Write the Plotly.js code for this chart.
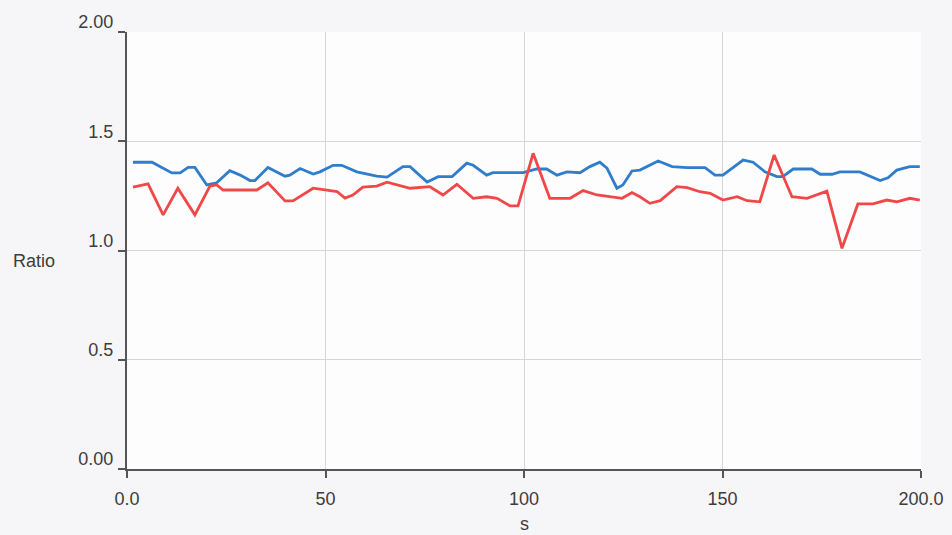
<!DOCTYPE html>
<html>
<head>
<meta charset="utf-8">
<script src="https://cdn.plot.ly/plotly-3.0.1.min.js"></script>
<style>html,body{margin:0;padding:0;background:#f6f5f7;}#chart{width:952px;height:535px;}</style>
</head>
<body>
<div id="chart"></div>
<script>
const blueX = [1.5, 6.3, 11.3, 13.4, 15.4, 17.1, 20.1, 22.6, 25.9, 28.5, 31, 32.2, 35.5, 37.7, 39.8, 41, 43.6, 46.9, 48.6, 51.9, 54.1, 57.9, 60.4, 62.9, 65.5, 69.5, 71.3, 75.6, 78.4, 81.9, 85.6, 87.2, 90.6, 92.2, 99.8, 103.2, 105.7, 108.3, 110.8, 114.1, 116.6, 119.1, 120.9, 123.4, 124.9, 127.2, 129.2, 133.8, 137.3, 141.1, 145.6, 148.1, 150.1, 155.2, 157.7, 160.7, 163.7, 165.2, 167.8, 172.5, 174.6, 177.6, 179.6, 184.6, 189.7, 191.7, 193.9, 197.2, 199.7];
const blueY = [1.404, 1.404, 1.355, 1.355, 1.38, 1.38, 1.30, 1.31, 1.365, 1.345, 1.32, 1.32, 1.38, 1.36, 1.34, 1.345, 1.375, 1.35, 1.36, 1.39, 1.39, 1.36, 1.35, 1.34, 1.336, 1.384, 1.384, 1.313, 1.338, 1.338, 1.40, 1.39, 1.345, 1.356, 1.356, 1.373, 1.373, 1.345, 1.36, 1.356, 1.384, 1.404, 1.377, 1.285, 1.30, 1.364, 1.368, 1.41, 1.384, 1.379, 1.379, 1.345, 1.345, 1.414, 1.404, 1.36, 1.338, 1.338, 1.373, 1.373, 1.349, 1.349, 1.36, 1.36, 1.32, 1.333, 1.368, 1.384, 1.384];
const redX = [1.5, 5.3, 9.1, 12.8, 17.1, 20.9, 22.6, 24.2, 32.7, 35.5, 39.8, 41.8, 46.9, 50.4, 52.9, 54.9, 56.9, 59.4, 62.9, 65.5, 68, 71.3, 76.3, 79.6, 83.1, 87.2, 90.6, 93.2, 96.5, 98.5, 102.3, 106.5, 111.6, 114.9, 118.4, 122.4, 124.7, 127.2, 129.2, 131.7, 134.3, 138.5, 141.1, 144.3, 146.9, 150.1, 153.7, 156.2, 159.4, 163, 167.5, 171.3, 176.3, 180.1, 184.1, 187.9, 191.4, 193.9, 197.2, 199.7];
const redY = [1.29, 1.305, 1.163, 1.285, 1.163, 1.295, 1.30, 1.277, 1.277, 1.31, 1.227, 1.227, 1.285, 1.277, 1.27, 1.24, 1.254, 1.29, 1.295, 1.313, 1.30, 1.285, 1.292, 1.254, 1.303, 1.239, 1.246, 1.239, 1.204, 1.204, 1.445, 1.239, 1.239, 1.274, 1.254, 1.246, 1.239, 1.265, 1.246, 1.216, 1.228, 1.292, 1.288, 1.269, 1.262, 1.231, 1.246, 1.228, 1.223, 1.437, 1.246, 1.239, 1.272, 1.01, 1.213, 1.213, 1.231, 1.223, 1.239, 1.231];
const xTickVals = [0, 50, 100, 150, 200];
const xTickText = ["0.0", "50", "100", "150", "200.0"];
const yTickVals = [0, 0.5, 1.0, 1.5, 2.0];
const yTickText = ["0.00", "0.5", "1.0", "1.5", "2.00"];

const font = {family: "Liberation Sans, Arial, sans-serif", size: 18, color: "#3d3d3d"};

const traces = [
  {x: blueX, y: blueY, type: "scatter", mode: "lines", line: {color: "#2f7dcc", width: 2.8}, showlegend: false},
  {x: redX, y: redY, type: "scatter", mode: "lines", line: {color: "#f04848", width: 2.8}, showlegend: false}
];

const layout = {
  width: 952, height: 535,
  margin: {l: 127, r: 31, t: 32, b: 66},
  paper_bgcolor: "#f6f5f7",
  plot_bgcolor: "#fdfdfd",
  font: font,
  xaxis: {
    range: [0, 200], tickvals: xTickVals, ticktext: xTickText,
    showgrid: true, gridcolor: "#d6d6d6", gridwidth: 1,
    showline: true, linecolor: "#555", linewidth: 2,
    ticks: "outside", ticklen: 7, tickcolor: "#555", tickwidth: 2,
    ticklabelstandoff: 5,
    zeroline: false
  },
  yaxis: {
    range: [0, 2], tickvals: yTickVals, ticktext: yTickText,
    showgrid: true, gridcolor: "#d6d6d6", gridwidth: 1,
    showline: true, linecolor: "#555", linewidth: 2,
    ticks: "outside", ticklen: 7, tickcolor: "#555", tickwidth: 2,
    ticklabelshift: -10, ticklabelstandoff: 1,
    zeroline: false
  },
  annotations: [
    {text: "Ratio", xref: "paper", yref: "paper", x: -0.146, y: 0.476, xanchor: "left", yanchor: "middle", showarrow: false, font: font},
    {text: "s", xref: "paper", yref: "paper", x: 0.5, y: -0.126, xanchor: "center", yanchor: "middle", showarrow: false, font: font}
  ]
};

Plotly.newPlot("chart", traces, layout, {displayModeBar: false, staticPlot: true});
</script>
</body>
</html>
